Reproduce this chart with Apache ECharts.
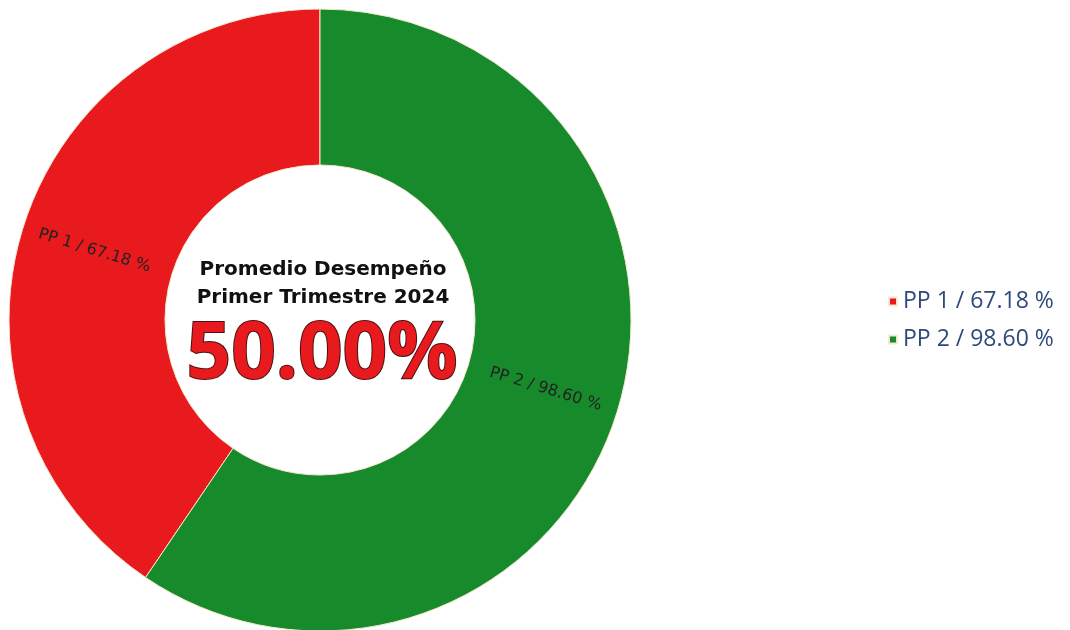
<!DOCTYPE html>
<html>
<head>
<meta charset="utf-8">
<script src="https://cdn.jsdelivr.net/npm/echarts@6/dist/echarts.min.js"></script>
<style>
html,body{margin:0;padding:0;background:#fff;}
#c{width:1070px;height:630px;}
</style>
</head>
<body>
<div id="c"></div>
<script>
const categories = ['PP 1', 'PP 2'];
const values = [67.18, 98.60];
const colors = ['#E81A1E', '#178A2C'];
const centerTitle = ['Promedio Desempeño', 'Primer Trimestre 2024'];
const centerValue = '50.00%';

function fmt(name) {
  const i = categories.indexOf(name);
  return name + ' / ' + values[i].toFixed(2) + ' %';
}

const chart = echarts.init(document.getElementById('c'), null, {renderer: 'canvas'});
chart.setOption({
  backgroundColor: '#ffffff',
  animation: false,
  color: colors,
  legend: {
    orient: 'vertical',
    left: 883,
    top: 285,
    itemWidth: 8,
    itemHeight: 8,
    itemGap: 15,
    icon: 'rect',
    data: categories,
    formatter: fmt,
    textStyle: {fontFamily: 'Open Sans', fontSize: 23, color: '#2E4A7C', padding: [0, 0, 0, 1]}
  },
  series: [{
    type: 'pie',
    center: [320, 320],
    radius: [155, 311],
    startAngle: 90,
    clockwise: false,
    avoidLabelOverlap: false,
    itemStyle: {borderColor: '#F4E9CF', borderWidth: 1},
    label: {
      show: true,
      position: 'inside',
      rotate: 'radial',
      formatter: function (p) { return fmt(p.name); },
      fontFamily: 'DejaVu Sans',
      fontSize: 16,
      color: '#222222'
    },
    labelLine: {show: false},
    data: categories.map((c, i) => ({name: c, value: values[i]}))
  }],
  graphic: [
    {type: 'text', style: {text: centerTitle[0], x: 0, y: 0, fontFamily: 'DejaVu Sans', fontWeight: 'bold', fontSize: 20, fill: '#111', textAlign: 'center', textVerticalAlign: 'middle'}, position: [323, 270]},
    {type: 'text', style: {text: centerTitle[1], x: 0, y: 0, fontFamily: 'DejaVu Sans', fontWeight: 'bold', fontSize: 20, fill: '#111', textAlign: 'center', textVerticalAlign: 'middle'}, position: [323, 298]},
    {type: 'text', style: {text: centerValue, x: 0, y: 0, fontFamily: 'Open Sans', fontWeight: 'bold', fontSize: 78, fill: '#E81A1E', stroke: '#4A1212', lineWidth: 2, textAlign: 'center', textVerticalAlign: 'middle'}, position: [322, 356]}
  ]
});
</script>
</body>
</html>
